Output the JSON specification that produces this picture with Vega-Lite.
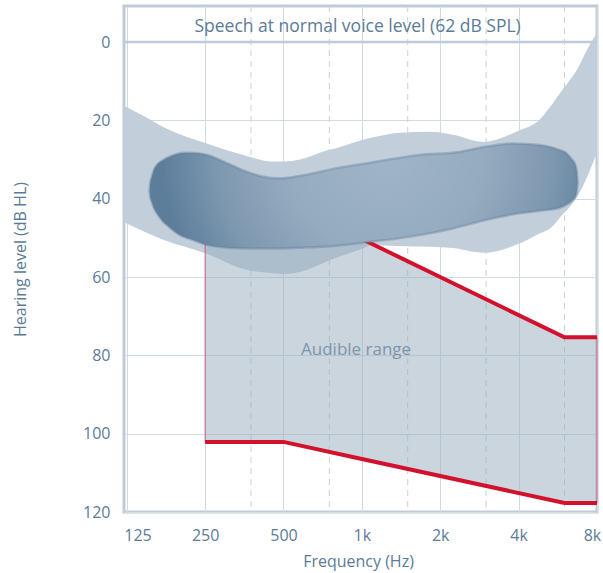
{
  "$schema": "https://vega.github.io/schema/vega-lite/v6.json",
  "width": 473,
  "height": 506,
  "autosize": {"type": "none"},
  "padding": {"left": 124, "top": 6, "right": 6, "bottom": 61},
  "config": {
    "view": {"stroke": "#bfccd8", "strokeWidth": 3},
    "font": "Open Sans",
    "axis": {
      "labelFont": "Open Sans", "titleFont": "Open Sans",
      "labelColor": "#5c7b97", "titleColor": "#5c7b97",
      "labelFontSize": 16, "titleFontSize": 16, "titleFontWeight": "normal",
      "domain": false, "ticks": false
    }
  },
  "datasets": {
    "dashed": [{"f": 375}, {"f": 750}, {"f": 1500}, {"f": 3000}, {"f": 6000}],
    "speech": [
      {"f": 122, "top": 16.3, "bottom": 46.0},
      {"f": 147, "top": 19.1, "bottom": 48.5},
      {"f": 172.5, "top": 21.7, "bottom": 50.5},
      {"f": 250, "top": 25.8, "bottom": 53.9},
      {"f": 362, "top": 29.1, "bottom": 58.2},
      {"f": 444, "top": 30.5, "bottom": 59.0},
      {"f": 498, "top": 30.5, "bottom": 59.2},
      {"f": 579, "top": 30.0, "bottom": 58.7},
      {"f": 741, "top": 27.6, "bottom": 55.9},
      {"f": 796, "top": 27.1, "bottom": 55.1},
      {"f": 1002, "top": 25.0, "bottom": 52.8},
      {"f": 1094, "top": 24.4, "bottom": 51.8},
      {"f": 1365, "top": 23.2, "bottom": 52.1},
      {"f": 1828, "top": 22.9, "bottom": 52.3},
      {"f": 2240, "top": 23.7, "bottom": 52.6},
      {"f": 2920, "top": 25.5, "bottom": 53.8},
      {"f": 3979, "top": 22.7, "bottom": 51.6},
      {"f": 4833, "top": 19.7, "bottom": 48.8},
      {"f": 5280, "top": 16.6, "bottom": 47.6},
      {"f": 5923, "top": 12.0, "bottom": 43.9},
      {"f": 6137, "top": 10.7, "bottom": 42.9},
      {"f": 6703, "top": 7.1, "bottom": 39.6},
      {"f": 7323, "top": 2.0, "bottom": 34.5},
      {"f": 8000, "top": -2.3, "bottom": 28.3}
    ],
    "audible": [
      {"f": 250, "upper": 42, "lower": 102.1},
      {"f": 500, "upper": 45, "lower": 102.1},
      {"f": 1000, "upper": 50.3, "lower": 106.45},
      {"f": 6000, "upper": 75.4, "lower": 117.7},
      {"f": 8000, "upper": 75.4, "lower": 117.7}
    ],
    "curves": [
      {"f": 250, "level": 42, "curve": "upper"},
      {"f": 500, "level": 45, "curve": "upper"},
      {"f": 1000, "level": 50.3, "curve": "upper"},
      {"f": 6000, "level": 75.4, "curve": "upper"},
      {"f": 8000, "level": 75.4, "curve": "upper"},
      {"f": 250, "level": 102.1, "curve": "lower"},
      {"f": 500, "level": 102.1, "curve": "lower"},
      {"f": 1000, "level": 106.45, "curve": "lower"},
      {"f": 6000, "level": 117.7, "curve": "lower"},
      {"f": 8000, "level": 117.7, "curve": "lower"}
    ],
    "banana": [
      {"f": 152.8, "top": 37.8, "bottom": 38.0},
      {"f": 153.8, "top": 36.0, "bottom": 39.6},
      {"f": 155.8, "top": 34.5, "bottom": 40.8},
      {"f": 158.3, "top": 32.9, "bottom": 42.1},
      {"f": 163.1, "top": 31.4, "bottom": 43.7},
      {"f": 167.9, "top": 30.6, "bottom": 44.9},
      {"f": 172.9, "top": 30.1, "bottom": 46.0},
      {"f": 178.2, "top": 29.6, "bottom": 46.7},
      {"f": 185.1, "top": 29.1, "bottom": 47.7},
      {"f": 194.7, "top": 28.6, "bottom": 48.8},
      {"f": 205.8, "top": 28.3, "bottom": 49.7},
      {"f": 218.9, "top": 28.3, "bottom": 50.3},
      {"f": 253.8, "top": 28.8, "bottom": 51.8},
      {"f": 302.9, "top": 30.9, "bottom": 52.5},
      {"f": 361.4, "top": 33.1, "bottom": 52.7},
      {"f": 418.6, "top": 34.4, "bottom": 52.7},
      {"f": 485.2, "top": 34.8, "bottom": 52.7},
      {"f": 594.6, "top": 34.0, "bottom": 52.5},
      {"f": 801, "top": 32.2, "bottom": 52.0},
      {"f": 1075, "top": 30.8, "bottom": 51.0},
      {"f": 1362, "top": 29.7, "bottom": 50.2},
      {"f": 1673, "top": 28.8, "bottom": 49.3},
      {"f": 2240, "top": 28.3, "bottom": 47.6},
      {"f": 3017, "top": 26.7, "bottom": 45.4},
      {"f": 3817, "top": 25.9, "bottom": 44.0},
      {"f": 4833, "top": 26.3, "bottom": 43.1},
      {"f": 5767, "top": 27.6, "bottom": 42.3},
      {"f": 6082, "top": 28.3, "bottom": 41.6},
      {"f": 6395, "top": 29.9, "bottom": 40.6},
      {"f": 6527, "top": 30.6, "bottom": 40.0},
      {"f": 6644, "top": 31.9, "bottom": 39.1},
      {"f": 6703, "top": 33.4, "bottom": 37.8},
      {"f": 6733, "top": 35.2, "bottom": 36.2}
    ],
    "zero": [{"level": 0}],
    "header": [{"f": 963, "level": -2.5, "label": "Speech at normal voice level (62 dB SPL)"}],
    "audlabel": [{"f": 950, "level": 79.9, "label": "Audible range"}]
  },
  "layer": [
    {
      "data": {"name": "dashed"},
      "mark": {"type": "rule", "color": "#c6d1db", "strokeWidth": 1, "strokeDash": [6, 5]},
      "encoding": {
        "x": {
          "field": "f", "type": "quantitative",
          "scale": {"type": "log", "domain": [122, 8000]},
          "axis": {
            "values": [125, 250, 500, 1000, 2000, 4000, 8000],
            "labelExpr": "datum.value >= 1000 ? format(datum.value/1000, 'd') + 'k' : format(datum.value, 'd')",
            "labelAlign": {"condition": {"test": "datum.value == 125", "value": "left"}, "value": "center"},
            "labelOffset": {"condition": [{"test": "datum.value == 125", "value": -3}, {"test": "datum.value == 8000", "value": -5}], "value": 0},
            "labelPadding": 15,
            "grid": true, "gridColor": "#d2dae2", "gridWidth": 1,
            "title": "Frequency (Hz)",
            "titleX": 234, "titleY": 54, "titleBaseline": "alphabetic", "titleAlign": "center"
          }
        }
      }
    },
    {
      "data": {"name": "speech"},
      "mark": {"type": "area", "fill": "#c2ceda", "interpolate": "monotone"},
      "encoding": {
        "x": {"field": "f", "type": "quantitative", "scale": {"type": "log", "domain": [122, 8000]}},
        "y": {
          "field": "top", "type": "quantitative",
          "scale": {"domain": [-9.2, 120], "reverse": true, "nice": false, "zero": false},
          "axis": {
            "values": [0, 20, 40, 60, 80, 100, 120],
            "labelPadding": 14,
            "grid": true, "gridColor": "#d2dae2", "gridWidth": 1,
            "title": "Hearing level (dB HL)",
            "titleAngle": -90, "titleX": -104, "titleY": 253,
            "titleBaseline": "middle", "titleAlign": "center"
          }
        },
        "y2": {"field": "bottom"}
      }
    },
    {
      "data": {"name": "audible"},
      "mark": {"type": "area", "fill": "#96acbe", "fillOpacity": 0.5, "stroke": "#d3405f", "strokeWidth": 1, "strokeOpacity": 0.75, "interpolate": "linear"},
      "encoding": {
        "x": {"field": "f", "type": "quantitative", "scale": {"type": "log", "domain": [122, 8000]}},
        "y": {"field": "upper", "type": "quantitative", "scale": {"domain": [-9.2, 120], "reverse": true, "nice": false, "zero": false}},
        "y2": {"field": "lower"}
      }
    },
    {
      "data": {"name": "curves"},
      "mark": {"type": "line", "color": "#d2112c", "strokeWidth": 4, "strokeCap": "butt"},
      "encoding": {
        "x": {"field": "f", "type": "quantitative", "scale": {"type": "log", "domain": [122, 8000]}},
        "y": {"field": "level", "type": "quantitative", "scale": {"domain": [-9.2, 120], "reverse": true, "nice": false, "zero": false}},
        "detail": {"field": "curve", "type": "nominal"}
      }
    },
    {
      "data": {"name": "banana"},
      "mark": {
        "type": "area", "interpolate": "monotone",
        "stroke": "#62829e", "strokeWidth": 2.5, "strokeOpacity": 0.4,
        "fill": {
          "gradient": "radial",
          "x1": 0.55, "y1": 0.4, "r1": 0,
          "x2": 0.55, "y2": 0.4, "r2": 0.52,
          "stops": [
            {"offset": 0, "color": "#a0b5c7"},
            {"offset": 0.45, "color": "#95abbf"},
            {"offset": 0.75, "color": "#7e98b0"},
            {"offset": 1, "color": "#5d7e9b"}
          ]
        }
      },
      "encoding": {
        "x": {"field": "f", "type": "quantitative", "scale": {"type": "log", "domain": [122, 8000]}},
        "y": {"field": "top", "type": "quantitative", "scale": {"domain": [-9.2, 120], "reverse": true, "nice": false, "zero": false}},
        "y2": {"field": "bottom"}
      }
    },
    {
      "data": {"name": "zero"},
      "mark": {"type": "rule", "color": "#bfccd8", "strokeWidth": 2.5},
      "encoding": {
        "y": {"field": "level", "type": "quantitative", "scale": {"domain": [-9.2, 120], "reverse": true, "nice": false, "zero": false}}
      }
    },
    {
      "data": {"name": "header"},
      "mark": {"type": "text", "font": "Open Sans", "fontSize": 17.5, "color": "#5c7b97", "align": "center", "baseline": "alphabetic"},
      "encoding": {
        "x": {"field": "f", "type": "quantitative", "scale": {"type": "log", "domain": [122, 8000]}},
        "y": {"field": "level", "type": "quantitative", "scale": {"domain": [-9.2, 120], "reverse": true, "nice": false, "zero": false}},
        "text": {"field": "label"}
      }
    },
    {
      "data": {"name": "audlabel"},
      "mark": {"type": "text", "font": "Open Sans", "fontSize": 17, "color": "#7d95ac", "align": "center", "baseline": "alphabetic"},
      "encoding": {
        "x": {"field": "f", "type": "quantitative", "scale": {"type": "log", "domain": [122, 8000]}},
        "y": {"field": "level", "type": "quantitative", "scale": {"domain": [-9.2, 120], "reverse": true, "nice": false, "zero": false}},
        "text": {"field": "label"}
      }
    }
  ]
}
